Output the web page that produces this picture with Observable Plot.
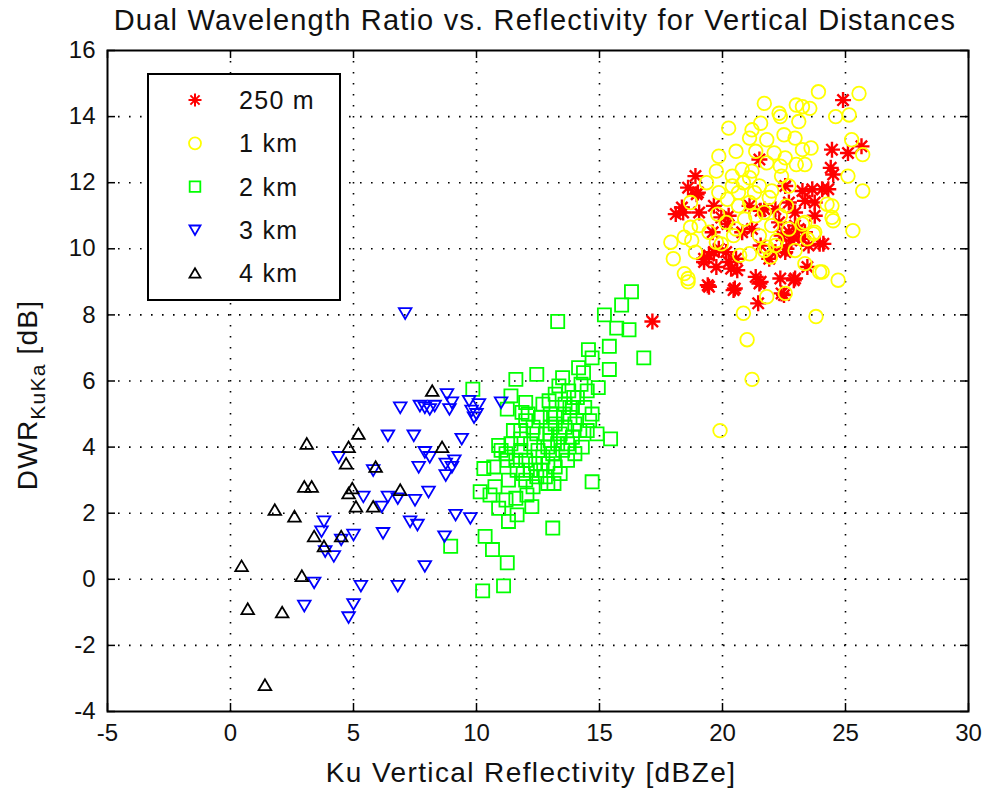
<!DOCTYPE html>
<html>
<head>
<meta charset="utf-8">
<script src="https://cdn.jsdelivr.net/npm/d3@7"></script>
<script src="https://cdn.jsdelivr.net/npm/@observablehq/plot@0.6"></script>
<style>
  html, body { margin: 0; padding: 0; background: #fff; }
  #wrap { position: relative; width: 985px; height: 790px; overflow: hidden; font-family: "Liberation Sans", Arial, sans-serif; }
  #title { position: absolute; left: 0; top: 0; width: 1070px; height: 40px; line-height: 40px; text-align: center; font-size: 29px; letter-spacing: 1.2px; color: #111; white-space: nowrap; }
  #chart { position: absolute; left: 0; top: 40px; }
</style>
</head>
<body>
<div id="wrap">
  <div id="title">Dual Wavelength Ratio vs. Reflectivity for Vertical Distances</div>
  <div id="chart"></div>
</div>
<script>
// Ku reflectivity [dBZe], DWR Ku-Ka [dB] pairs per vertical distance
const seriesNames = ["250 m", "1 km", "2 km", "3 km", "4 km"];

const dist250m = [
  [24.9,14.5],[24.45,13.0],[25.1,12.9],[25.65,13.1],[24.4,12.45],[24.5,12.25],[21.5,12.7],[18.9,12.2],
  [18.6,11.85],[19.0,11.7],[18.4,11.1],[18.1,11.05],[19.05,11.1],[19.65,11.3],[20.25,11.0],[22.55,11.9],
  [21.7,11.2],[22.15,11.2],[22.7,11.4],[23.25,11.75],[23.65,11.8],[24.05,11.8],[24.3,11.8],[23.35,11.45],
  [23.75,11.4],[22.95,11.1],[23.75,11.0],[22.7,10.5],[22.95,10.7],[22.4,10.4],[22.8,10.25],[23.25,10.3],
  [23.95,10.15],[23.35,10.5],[20.2,10.75],[19.6,10.5],[19.25,9.7],[19.45,9.8],[19.85,10.0],[20.15,9.9],
  [19.75,9.45],[20.25,9.6],[20.6,9.35],[20.55,9.7],[19.4,8.9],[20.45,8.75],[21.5,8.95],[21.35,9.15],
  [21.9,9.7],[22.15,9.9],[22.55,9.9],[22.4,8.65],[22.95,9.1],[21.55,10.1],[21.2,10.6],[20.8,10.5],
  [19.95,10.95],[21.1,11.3],[21.45,8.35],[22.5,8.6],[20.5,8.8],[19.45,8.85],[21.55,9.0],[22.35,9.1],
  [22.9,9.05],[24.1,10.15],[23.45,9.45],[19.65,9.9],[19.25,9.6],[20.35,9.4],[18.35,11.25],[18.95,11.65],
  [21.55,11.15],[22.9,10.35],[22.6,10.0],[23.1,10.6],[23.5,10.1],[22.3,10.8],[17.15,7.8]
];

const dist1km = [
  [23.9,14.75],[25.55,14.7],[21.7,14.4],[23.0,14.35],[23.25,14.3],[23.55,14.25],[22.3,14.1],[22.35,14.0],
  [24.6,14.0],[25.15,14.05],[23.1,13.85],[21.55,13.8],[20.25,13.65],[21.2,13.6],[21.1,13.35],[21.8,13.3],
  [22.5,13.45],[22.95,13.35],[23.6,13.05],[23.25,13.0],[20.55,12.95],[21.35,12.95],[25.25,13.3],[25.7,12.85],
  [19.85,12.8],[22.1,12.9],[22.55,12.75],[23.0,12.55],[23.35,12.55],[19.75,12.35],[21.2,12.35],[22.35,12.5],
  [21.8,12.6],[20.8,12.4],[20.4,12.2],[21.1,12.15],[25.1,12.2],[25.7,11.75],[19.35,12.0],[19.85,11.7],
  [20.4,11.9],[21.5,11.9],[22.0,11.75],[22.7,11.9],[24.45,11.3],[24.45,10.95],[25.3,10.55],[23.75,10.5],
  [23.25,10.75],[18.7,11.4],[19.05,10.7],[19.8,11.05],[20.65,11.3],[21.1,11.4],[21.7,11.1],[22.35,11.0],
  [22.6,11.3],[17.9,10.2],[18.0,9.7],[18.45,10.35],[18.45,9.25],[18.6,9.1],[18.9,9.9],[19.75,10.2],
  [20.55,10.6],[21.1,9.85],[21.7,9.95],[22.15,10.1],[22.95,9.95],[23.35,9.55],[23.95,9.3],[24.7,9.05],
  [20.45,10.4],[21.35,11.0],[22.0,10.7],[20.65,11.7],[20.85,12.0],[21.9,11.55],[20.15,10.8],[19.45,10.5],
  [23.35,10.8],[23.45,10.3],[19.95,10.15],[24.25,11.35],[24.5,10.85],[20.7,9.8],[24.05,9.3],[18.7,10.65],
  [18.75,10.25],[23.7,10.45],[22.2,10.25],[21.8,10.05],[21.95,9.75],[20.2,11.5],[21.3,11.7],[22.4,12.2],
  [20.9,10.9],[21.5,10.4],[22.7,10.6],
  [20.85,8.05],[23.8,7.95],[21.0,7.25],[21.2,6.05],[19.9,4.5],[21.8,8.55],[22.55,8.65],[18.6,9.0]
];

const dist2km = [
  [16.3,8.7],[15.9,8.3],[15.2,8.0],[13.3,7.8],[15.7,7.6],[16.2,7.55],[16.8,6.7],[15.4,7.05],
  [14.55,6.95],[14.7,6.7],[14.15,6.4],[15.4,6.35],[14.35,6.25],[12.45,6.2],[11.6,6.05],[13.5,6.1],
  [14.95,5.8],[9.85,5.75],[11.4,5.55],[12.0,5.35],[11.25,5.15],[11.85,5.05],[12.95,5.4],[13.35,5.85],
  [13.75,5.7],[13.95,5.5],[14.25,5.9],[14.5,5.7],[13.9,5.2],[13.55,5.0],[13.2,4.9],[14.7,5.0],
  [14.5,4.5],[15.45,4.25],[13.0,4.6],[12.45,4.4],[10.9,4.05],[11.8,4.25],[14.9,4.4],[14.7,2.95],
  [13.1,1.55],[10.15,2.65],[10.75,2.8],[10.9,2.15],[11.3,1.75],[11.65,1.95],[12.25,2.2],[10.35,1.3],
  [10.65,0.9],[11.25,0.5],[10.25,-0.35],[11.1,-0.2],[8.95,1.0],[10.7,3.4],[11.25,3.6],[11.0,3.9],
  [11.65,3.3],[12.0,3.0],[12.45,3.1],[12.9,2.9],[13.15,2.9],[10.55,2.55],[11.2,2.4],[11.6,2.45],
  [12.05,2.55],[10.3,3.35],
  [12.0,4.8],[12.3,4.6],[12.6,4.9],[12.8,4.4],[13.0,4.2],[13.2,4.7],[13.4,4.4],[13.6,4.6],
  [13.8,4.9],[14.0,4.7],[13.9,4.3],[14.2,4.5],[14.4,5.2],[12.2,4.1],[12.5,3.9],[12.7,3.7],
  [12.9,4.0],[13.1,3.8],[13.3,4.1],[13.5,3.9],[13.7,3.6],[12.4,3.5],[12.6,3.3],[12.9,3.5],
  [13.2,3.4],[11.8,3.9],[11.6,3.6],[12.0,3.6],[11.9,3.2],[12.2,3.3],[11.4,4.1],[11.2,3.8],
  [11.5,4.5],[11.8,4.5],[12.1,5.0],[13.0,5.0],[13.6,5.3],[14.1,5.5],[14.3,4.0],[13.7,4.1],
  [12.8,3.1],[13.4,3.2],[11.3,3.0],[12.3,2.8],[14.0,3.8],[14.6,4.8],[12.7,5.3],[13.2,5.6],[13.8,5.2]
];

const dist3km = [
  [7.1,8.05],
  [6.9,5.2],[7.7,5.25],[7.9,5.2],[8.1,5.15],[8.3,5.25],[8.8,5.6],[9.0,5.35],[8.9,5.15],
  [9.7,5.4],[9.8,5.1],[10.0,5.0],[10.1,5.3],[9.9,4.9],[11.0,5.35],
  [6.4,4.35],[7.45,4.35],[9.4,4.25],
  [4.4,3.7],[5.8,3.3],[7.9,3.85],[8.1,3.7],[7.65,3.4],[8.75,3.5],[9.1,3.6],[8.75,3.15],[9.0,3.4],
  [5.4,2.5],[6.4,2.5],[6.8,2.45],[7.5,2.4],[8.05,2.65],[6.15,2.2],
  [9.15,1.95],[9.75,1.85],[7.3,1.75],[7.6,1.65],[3.8,1.75],[3.7,1.45],[5.0,1.35],[4.5,1.2],
  [6.2,1.4],[3.85,0.85],[4.2,0.7],[8.7,1.3],[7.9,0.4],
  [3.4,-0.1],[5.3,-0.2],[6.8,-0.2],[3.0,-0.8],[5.0,-0.75],[4.8,-1.15]
];

const dist4km = [
  [8.2,5.7],[3.1,4.1],[5.2,4.4],[4.8,4.0],[4.7,3.5],[5.9,3.4],[8.6,4.0],
  [3.0,2.8],[3.3,2.8],[4.8,2.6],[4.95,2.75],[5.1,2.2],[5.8,2.2],[6.9,2.7],
  [1.8,2.1],[2.6,1.9],[3.4,1.3],[3.8,1.0],[4.5,1.3],[0.45,0.4],[2.9,0.1],
  [0.7,-0.9],[2.1,-1.0],[1.4,-3.2]
];

const xTicks = [-5, 0, 5, 10, 15, 20, 25, 30];
const yTicks = [-4, -2, 0, 2, 4, 6, 8, 10, 12, 14, 16];

// marker shapes drawn as line symbols
const asterisk = {
  draw(ctx, size) {
    const r = Math.sqrt(size / Math.PI), d = r * Math.SQRT1_2;
    ctx.moveTo(-r, 0); ctx.lineTo(r, 0);
    ctx.moveTo(0, -r); ctx.lineTo(0, r);
    ctx.moveTo(-d, -d); ctx.lineTo(d, d);
    ctx.moveTo(-d, d); ctx.lineTo(d, -d);
  }
};
const triangleDown = {
  draw(ctx, size) {
    const r = Math.sqrt(size / Math.PI);
    ctx.moveTo(-r, -r * 0.8); ctx.lineTo(r, -r * 0.8); ctx.lineTo(0, r * 0.9); ctx.closePath();
  }
};
const triangleUp = {
  draw(ctx, size) {
    const r = Math.sqrt(size / Math.PI);
    ctx.moveTo(-r, r * 0.8); ctx.lineTo(r, r * 0.8); ctx.lineTo(0, -r * 0.9); ctx.closePath();
  }
};

const styles = [
  {data: dist250m, symbol: asterisk, stroke: "#ff0000", r: 8, strokeWidth: 2.4, legendR: 6.5},
  {data: dist1km, symbol: "circle", stroke: "#ffff00", r: 6.8, strokeWidth: 1.8, legendR: 6},
  {data: dist2km, symbol: "square", stroke: "#00ff00", r: 7.4, strokeWidth: 1.8, legendR: 6},
  {data: dist3km, symbol: triangleDown, stroke: "#0000ff", r: 6.3, strokeWidth: 1.8, legendR: 5.5},
  {data: dist4km, symbol: triangleUp, stroke: "#000000", r: 6.3, strokeWidth: 1.8, legendR: 5.5}
];

const W = 985, H = 750;
const mL = 107, mR = 17, mT = 10, mB = 79;
const plotW = W - mL - mR, plotH = H - mT - mB;
const tickLen = 8;
const innerX = xTicks.slice(1, -1), innerY = yTicks.slice(1, -1);
const gridStyle = {stroke: "#000", strokeOpacity: 1, strokeWidth: 1.6, strokeDasharray: "1.6,9.4"};
const fontFamily = "'Liberation Sans', Arial, sans-serif";

const chart = Plot.plot({
  width: W, height: H,
  marginLeft: mL, marginRight: mR, marginTop: mT, marginBottom: mB,
  style: {fontFamily, color: "#111", background: "#fff", overflow: "visible"},
  x: {domain: [-5, 30]},
  y: {domain: [-4, 16]},
  marks: [
    Plot.gridX(innerX, gridStyle),
    Plot.gridY(innerY, gridStyle),
    ...styles.map(s => Plot.dot(s.data, {
      x: d => d[0], y: d => d[1],
      symbol: s.symbol, r: s.r, fill: "none", stroke: s.stroke, strokeWidth: s.strokeWidth
    })),
    // inward ticks on all four sides
    Plot.ruleX(xTicks, {stroke: "#000", strokeWidth: 1.5, insetTop: plotH - tickLen}),
    Plot.ruleX(xTicks, {stroke: "#000", strokeWidth: 1.5, insetBottom: plotH - tickLen}),
    Plot.ruleY(yTicks, {stroke: "#000", strokeWidth: 1.5, insetRight: plotW - tickLen}),
    Plot.ruleY(yTicks, {stroke: "#000", strokeWidth: 1.5, insetLeft: plotW - tickLen}),
    Plot.axisX({ticks: xTicks, tickSize: 0, tickPadding: 12, fontSize: 24, label: null, tickFormat: d => String(d)}),
    Plot.axisY({ticks: yTicks, tickSize: 0, tickPadding: 12, fontSize: 24, label: null, tickFormat: d => String(d)}),
    Plot.frame({stroke: "#000", strokeWidth: 2})
  ]
});

document.getElementById("chart").appendChild(chart);

const svg = d3.select(chart);

// axis titles
svg.append("text")
  .attr("x", 531).attr("y", 742)
  .attr("text-anchor", "middle")
  .attr("font-size", 28).attr("letter-spacing", 1.4)
  .attr("fill", "#111")
  .text("Ku Vertical Reflectivity [dBZe]");

const yl = svg.append("text")
  .attr("transform", "translate(37,355) rotate(-90)")
  .attr("text-anchor", "middle")
  .attr("font-size", 28).attr("letter-spacing", 1.2)
  .attr("fill", "#111");
yl.append("tspan").text("DWR");
yl.append("tspan").attr("font-size", 21).attr("dy", 8).text("KuKa");
yl.append("tspan").attr("dy", -8).text(" [dB]");

// legend box
const legend = svg.append("g").attr("transform", "translate(148,34)");
legend.append("rect").attr("width", 192).attr("height", 226)
  .attr("fill", "#fff").attr("stroke", "#000").attr("stroke-width", 2);
styles.forEach((s, i) => {
  const cy = 26 + i * 43.3;
  const type = typeof s.symbol === "string" ? (s.symbol === "circle" ? d3.symbolCircle : d3.symbolSquare) : s.symbol;
  legend.append("path")
    .attr("transform", `translate(47,${cy})`)
    .attr("d", d3.symbol(type, Math.PI * s.legendR ** 2)())
    .attr("fill", "none").attr("stroke", s.stroke).attr("stroke-width", Math.min(s.strokeWidth, 2));
  legend.append("text")
    .attr("x", 91).attr("y", cy).attr("dy", "0.36em")
    .attr("text-anchor", "start")
    .attr("font-size", 25).attr("letter-spacing", 1.3).attr("fill", "#111")
    .text(seriesNames[i]);
});
</script>
</body>
</html>
